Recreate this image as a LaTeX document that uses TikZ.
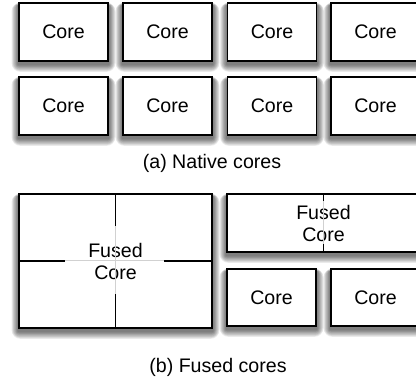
\documentclass[tikz,border=0pt]{standalone}
\usepackage{fontspec}
\setmainfont{Liberation Sans}
\pgfdeclarelayer{background}
\pgfsetlayers{background,main}
\tikzset{
  corebox/.style={draw=black, line width=1.5pt, fill=white, rectangle,
    inner sep=0pt, align=center,
    font=\fontsize{19.6}{22}\selectfont},
  darkline/.style={line width=1.5pt, black},
  lightline/.style={line width=1pt, black!18},
  caption/.style={font=\fontsize{19.6}{22}\selectfont, inner sep=0pt}
}
\newcommand{\softshadow}[1]{%
  \foreach \k in {1,...,9}{%
    \fill[black, opacity=0.075, rounded corners=\k pt]
      ([xshift=-0.75*\k pt, yshift=-3pt+0.3*\k pt]#1.north west) rectangle
      ([xshift=0.75*\k pt, yshift=-2.5pt-0.85*\k pt]#1.south east);
  }%
}
\begin{document}
\begin{tikzpicture}[x=1pt, y=-1pt]
\useasboundingbox (0,0) rectangle (416,379);
\clip (0,0) rectangle (416,379);
% (a) native cores
\node[corebox, minimum width=89pt, minimum height=58pt] (a11) at (63.5,32) {Core};
\node[corebox, minimum width=89pt, minimum height=58pt] (a12) at (167.5,32) {Core};
\node[corebox, minimum width=89pt, minimum height=58pt] (a13) at (272,32) {Core};
\node[corebox, minimum width=89pt, minimum height=58pt] (a14) at (375.5,32) {Core};
\node[corebox, minimum width=89pt, minimum height=58pt] (a21) at (63.5,106) {Core};
\node[corebox, minimum width=89pt, minimum height=58pt] (a22) at (167.5,106) {Core};
\node[corebox, minimum width=89pt, minimum height=58pt] (a23) at (272,106) {Core};
\node[corebox, minimum width=89pt, minimum height=58pt] (a24) at (375.5,106) {Core};
\node[caption] (capa) at (212,163) {(a) Native cores};
% (b) fused cores
\node[corebox, minimum width=193pt, minimum height=134pt] (f4) at (115.5,261) {Fused\\Core};
\draw[lightline] (f4.north) -- (f4.south);
\draw[lightline] (f4.west) -- (f4.east);
\draw[darkline] (f4.north) -- ++(0,33);
\draw[darkline] (f4.south) -- ++(0,-35);
\draw[darkline] (f4.west) -- ++(47,0);
\draw[darkline] (f4.east) -- ++(-49,0);
\node[corebox, minimum width=193pt, minimum height=58pt] (f2) at (323.5,223) {Fused\\Core};
\draw[lightline] (f2.north) -- (f2.south);
\draw[darkline] (f2.north) -- ++(0,8);
\draw[darkline] (f2.south) -- ++(0,-9);
\node[corebox, minimum width=89pt, minimum height=57pt] (b1) at (271.5,297.5) {Core};
\node[corebox, minimum width=89pt, minimum height=57pt] (b2) at (375.5,297.5) {Core};
\node[caption] (capb) at (218,367) {(b) Fused cores};
\begin{pgfonlayer}{background}
\foreach \n in {a11,a12,a13,a14,a21,a22,a23,a24,f4,f2,b1,b2}{\softshadow{\n}}
\end{pgfonlayer}
\end{tikzpicture}
\end{document}
